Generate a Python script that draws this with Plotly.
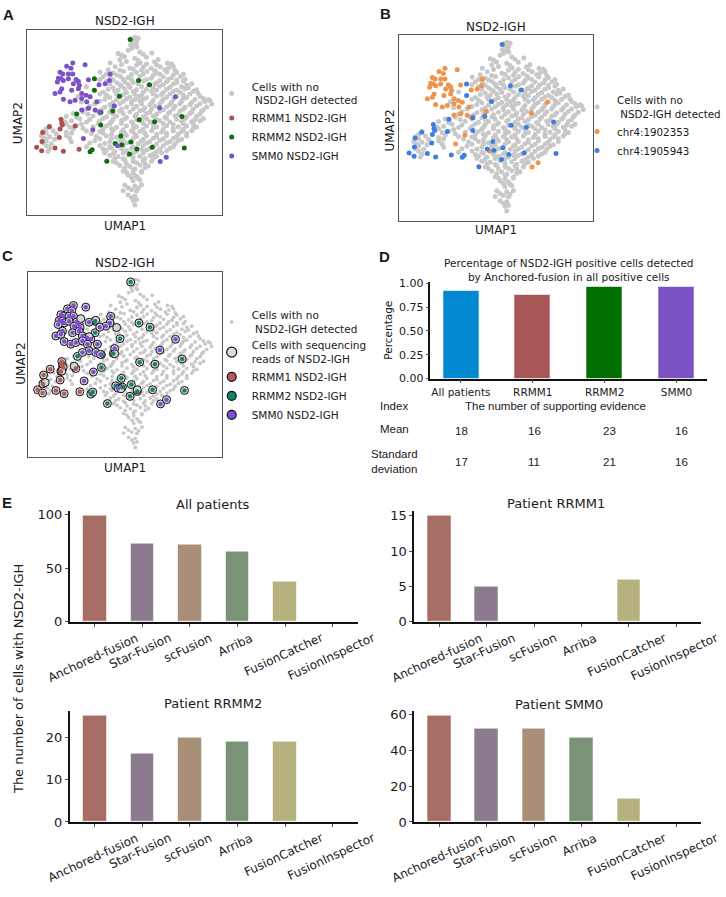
import plotly.graph_objects as go

W, H = 726, 897

# UMAP coordinates of the cells (one embedding shared by panels A, B and C)
bg_cells = [
    (39.8, 59.8), (40.6, 60.2), (41.5, 59.9), (40.2, 59.0),
    (39.9, 58.3), (41.0, 58.7), (39.2, 57.8), (40.8, 57.6),
    (39.6, 56.8), (41.1, 57.2), (38.5, 56.2),
    (35.5, 55.2), (42.0, 55.7), (45.6, 55.4), (43.0, 55.0), (36.5, 54.8),
    (37.4, 54.2), (40.5, 53.8), (44.0, 54.1),
    (36.0, 53.3), (41.5, 53.1), (47.5, 53.4),
    (33.1, 52.3), (38.0, 52.8), (42.1, 52.4), (46.4, 52.7), (50.2, 52.3),
    (36.5, 51.9), (41.0, 51.7), (44.0, 52.0), (47.0, 51.8), (51.5, 52.0),
    (34.6, 51.2), (39.0, 50.8), (43.0, 51.1), (45.4, 50.7), (48.1, 51.2), (50.6, 50.9), (52.0, 51.3),
    (32.5, 50.3), (36.0, 50.1), (40.0, 50.4), (42.5, 50.2), (46.5, 50.0), (49.5, 50.3), (52.5, 50.1),
    (30.1, 49.6), (34.0, 49.3), (37.1, 49.8), (41.0, 49.4), (44.1, 49.7), (47.0, 49.3), (50.1, 49.6),
    (53.0, 49.4),
    (32.0, 48.9), (35.0, 48.7), (39.5, 48.8), (43.0, 48.9), (46.0, 48.6), (48.0, 48.9), (52.0, 48.7),
    (55.0, 48.9),
    (31.0, 48.1), (33.2, 47.8), (36.1, 48.3), (38.5, 47.9), (42.0, 48.2), (45.4, 47.7), (49.0, 48.1),
    (51.5, 47.8), (54.1, 48.2),
    (30.0, 47.3), (34.0, 47.1), (37.0, 47.4), (39.5, 47.2), (44.0, 47.3), (48.0, 47.0), (50.5, 47.3),
    (53.0, 47.1), (55.5, 47.4),
    (23.5, 46.4), (32.0, 46.7), (35.1, 46.3), (37.5, 46.6), (40.0, 46.4), (43.1, 46.8), (47.0, 46.3),
    (50.0, 46.6), (53.1, 46.4), (55.0, 46.8),
    (33.0, 45.9), (36.0, 45.7), (38.5, 45.8), (41.5, 45.9), (44.5, 45.6), (46.5, 45.9), (49.0, 45.7),
    (52.0, 45.9), (56.0, 45.6), (57.5, 46.0),
    (26.0, 45.1), (34.0, 44.8), (36.5, 45.2), (39.0, 44.9), (42.5, 45.1), (46.0, 44.7), (48.0, 45.2),
    (51.0, 44.9), (54.5, 45.1), (56.5, 44.8),
    (32.5, 44.3), (35.5, 44.1), (37.5, 44.4), (41.0, 44.2), (44.0, 44.3), (47.0, 44.0), (50.0, 44.3),
    (53.0, 44.1), (55.5, 44.4), (59.0, 44.2),
    (31.0, 43.4), (34.5, 43.7), (38.0, 43.3), (40.0, 43.6), (43.0, 43.4), (45.5, 43.8), (49.0, 43.3),
    (52.0, 43.6), (54.0, 43.4), (58.0, 43.7),
    (30.0, 42.9), (32.0, 42.6), (35.0, 42.9), (37.0, 42.7), (40.5, 42.8), (42.5, 42.6), (46.0, 42.9),
    (48.5, 42.7), (51.0, 42.9), (55.0, 42.6), (57.0, 42.9), (59.5, 43.0),
    (23.5, 42.1), (33.0, 41.8), (36.0, 42.2), (39.0, 41.9), (41.5, 42.1), (44.0, 41.7), (47.0, 42.2),
    (50.0, 41.9), (53.0, 42.1), (56.0, 41.8), (60.0, 42.2),
    (31.5, 41.3), (35.0, 41.1), (38.0, 41.4), (40.5, 41.2), (43.0, 41.3), (46.0, 41.0), (49.0, 41.3),
    (52.0, 41.1), (55.0, 41.4), (58.5, 41.2), (61.0, 41.5), (62.5, 41.2),
    (24.5, 40.4), (30.0, 40.7), (34.0, 40.3), (37.0, 40.6), (39.5, 40.4), (42.0, 40.8), (45.5, 40.3),
    (48.5, 40.6), (51.5, 40.4), (54.5, 40.7), (57.5, 40.3), (61.5, 40.6), (63.0, 40.9),
    (28.5, 39.9), (33.0, 39.7), (36.0, 39.9), (39.5, 39.8), (42.5, 39.9), (45.0, 39.6), (48.0, 39.9),
    (51.0, 39.7), (54.0, 39.9), (57.0, 39.6), (60.0, 39.9), (63.5, 39.8),
    (27.0, 39.1), (31.5, 38.8), (34.5, 39.2), (38.0, 38.9), (41.0, 39.1), (43.5, 38.7), (46.5, 39.2),
    (50.0, 38.9), (52.5, 39.1), (55.5, 38.8), (59.0, 39.2), (62.0, 38.9),
    (26.0, 38.3), (30.5, 38.1), (33.5, 38.4), (36.5, 38.2), (40.0, 38.3), (43.0, 38.0), (45.5, 38.3),
    (49.0, 38.1), (52.0, 38.4), (55.0, 38.2), (58.0, 38.3), (61.0, 38.1),
    (25.0, 37.4), (29.0, 37.7), (33.0, 37.3), (36.0, 37.6), (39.0, 37.4), (42.0, 37.8), (45.0, 37.3),
    (48.0, 37.6), (51.0, 37.4), (54.0, 37.7), (57.5, 37.3), (60.5, 37.6),
    (22.0, 36.9), (26.5, 36.7), (30.0, 36.9), (34.0, 36.8), (37.0, 36.9), (41.0, 36.6), (44.0, 36.9),
    (47.0, 36.7), (50.5, 36.9), (53.5, 36.6), (57.0, 36.9), (60.0, 36.7),
    (20.0, 36.1), (23.0, 35.8), (28.0, 36.2), (32.0, 35.9), (35.0, 36.1), (38.0, 35.7), (40.5, 36.2),
    (43.0, 35.9), (46.0, 36.1), (49.5, 35.8), (52.5, 36.2), (56.0, 35.9), (59.0, 36.1),
    (24.0, 35.3), (27.0, 35.1), (31.0, 35.4), (34.0, 35.2), (37.5, 35.3), (41.0, 35.0), (44.0, 35.3),
    (47.0, 35.1), (50.0, 35.4), (53.0, 35.2), (55.5, 35.3), (58.5, 35.1), (61.0, 35.3),
    (19.5, 34.4), (21.5, 34.7), (26.0, 34.3), (30.0, 34.6), (33.5, 34.4), (36.5, 34.8), (39.5, 34.3),
    (42.5, 34.6), (45.0, 34.4), (48.0, 34.7), (51.0, 34.3), (54.5, 34.6), (57.5, 34.4), (60.0, 34.7),
    (20.0, 33.9), (24.5, 33.7), (29.5, 33.9), (33.0, 33.8), (36.5, 33.9), (40.0, 33.6), (43.0, 33.9),
    (46.0, 33.7), (49.0, 33.9), (52.0, 33.6), (55.0, 33.9), (58.0, 33.7),
    (15.0, 33.1), (21.0, 32.8), (23.0, 33.2), (28.0, 32.9), (32.0, 33.1), (35.0, 32.7), (38.0, 33.2),
    (41.0, 32.9), (44.0, 33.1), (47.0, 32.8), (50.0, 33.2), (53.5, 32.9), (56.0, 33.1), (59.0, 32.8),
    (14.0, 32.3), (22.0, 32.1), (25.0, 32.4), (31.0, 32.2), (33.5, 32.3), (37.0, 32.0), (40.0, 32.3),
    (43.0, 32.1), (46.0, 32.4), (49.0, 32.2), (52.0, 32.3), (55.0, 32.1), (58.0, 32.4),
    (13.0, 31.4), (16.0, 31.7), (20.0, 31.3), (26.0, 31.6), (30.0, 31.4), (34.0, 31.8), (36.5, 31.3),
    (39.5, 31.6), (42.0, 31.4), (45.5, 31.7), (48.5, 31.3), (52.0, 31.6), (54.5, 31.4), (57.5, 31.7),
    (14.0, 30.9), (17.0, 30.7), (21.5, 30.9), (27.5, 30.8), (31.0, 30.9), (33.5, 30.6), (37.5, 30.9),
    (40.5, 30.7), (43.5, 30.9), (47.0, 30.6), (50.0, 30.9), (53.5, 30.7), (56.0, 30.9),
    (12.5, 30.1), (15.0, 29.8), (20.0, 30.2), (29.0, 29.9), (32.0, 30.1), (35.0, 29.7), (38.0, 30.2),
    (41.0, 29.9), (44.0, 30.1), (47.0, 29.8), (50.0, 30.2), (53.0, 29.9), (56.0, 30.1),
    (13.5, 29.3), (16.5, 29.1), (21.0, 29.4), (30.0, 29.2), (33.5, 29.3), (37.0, 29.0), (40.0, 29.3),
    (43.0, 29.1), (46.0, 29.4), (49.0, 29.2), (52.0, 29.3), (54.5, 29.1),
    (14.0, 28.7), (21.5, 28.3), (28.5, 28.6), (33.0, 28.4), (36.0, 28.8), (39.5, 28.3),
    (42.5, 28.6), (45.0, 28.4), (48.0, 28.7), (51.0, 28.3), (53.5, 28.6),
    (13.0, 27.9), (15.5, 27.7), (27.0, 27.9), (31.5, 27.8), (35.0, 27.6), (38.0, 27.9), (41.5, 27.7),
    (44.0, 27.9), (47.0, 27.6), (50.0, 27.9), (52.5, 27.7),
    (14.0, 27.1), (26.0, 26.8), (30.0, 27.2), (33.0, 26.9), (37.0, 27.1), (40.0, 26.7), (43.0, 27.2),
    (46.0, 26.9), (49.0, 27.1), (52.0, 26.8),
    (15.0, 26.3), (31.0, 26.1), (33.5, 26.4), (36.5, 26.2), (39.5, 26.3), (42.5, 26.0), (45.0, 26.3),
    (48.0, 26.1), (51.0, 26.3),
    (14.5, 25.4), (32.0, 25.7), (34.5, 25.3), (38.0, 25.6), (41.0, 25.4), (44.0, 25.8), (47.0, 25.3),
    (50.0, 25.6),
    (31.5, 24.9), (34.0, 24.7), (37.0, 24.9), (40.0, 24.8), (43.0, 24.9), (46.0, 24.6), (48.5, 24.9),
    (33.0, 24.1), (35.5, 23.8), (38.5, 24.2), (42.0, 23.9), (45.0, 24.1), (47.0, 23.8),
    (34.5, 23.3), (37.0, 23.1), (40.0, 23.4), (43.5, 23.2), (46.0, 23.3),
    (34.0, 22.4), (37.5, 22.7), (40.0, 22.3), (43.0, 22.6), (45.5, 22.4),
    (35.0, 21.9), (38.0, 21.7), (41.0, 21.9), (43.5, 21.7),
    (36.0, 21.1), (39.0, 20.8), (42.0, 21.2), (44.5, 20.9),
    (37.5, 20.3), (40.5, 20.1), (43.5, 20.4),
    (37.0, 19.4), (40.0, 19.7), (42.5, 19.3),
    (38.0, 18.9), (40.0, 18.7), (42.5, 19.0),
    (38.5, 18.1), (41.0, 17.8),
    (39.5, 17.3), (41.5, 17.1),
    (40.0, 16.4), (42.0, 16.7),
    (37.5, 15.1), (40.5, 14.8), (42.5, 15.2),
    (38.5, 14.3), (41.5, 14.1),
    (37.0, 13.4), (39.5, 13.7), (41.0, 13.3),
    (38.5, 12.1), (40.5, 11.8),
    (39.5, 11.3),
    (40.0, 10.4), (41.0, 10.7),
    (40.5, 9.0),
]

rrmm1_cells = [
    (18.4, 35.2), (18.6, 34.0), (14.9, 32.9), (18.1, 32.2), (18.8, 33.4), (22.6, 33.1), (12.9, 31.1),
    (17.9, 29.6), (12.7, 28.4), (11.1, 26.6), (12.6, 25.6), (16.6, 26.4), (19.1, 25.4), (23.8, 26.0),
]

rrmm2_cells = [
    (39.1, 59.5), (28.4, 47.5), (41.6, 47.0), (44.9, 45.7), (28.4, 44.0), (35.9, 42.2), (23.1, 36.8),
    (30.3, 37.3), (33.9, 37.7), (30.3, 33.4), (41.8, 35.0), (46.4, 34.4), (54.6, 36.0), (36.3, 30.1),
    (34.6, 27.8), (36.6, 27.4), (39.3, 28.2), (41.1, 26.1), (38.9, 24.6), (45.7, 26.6), (55.3, 26.4),
    (27.1, 25.3), (27.7, 25.9), (32.1, 22.4),
]

smm0_cells = [
    (21.9, 52.3), (25.6, 51.8), (20.1, 51.3), (21.4, 50.7), (18.1, 49.5), (18.9, 49.0), (20.6, 49.0),
    (21.9, 49.0), (17.6, 47.7), (18.4, 47.5), (19.1, 47.0), (20.6, 47.5), (22.9, 47.3), (23.6, 46.7),
    (17.3, 46.5), (22.1, 46.0), (23.9, 45.5), (18.6, 44.5), (21.6, 44.0), (23.6, 44.5), (16.6, 43.0),
    (18.1, 43.5), (24.6, 43.0), (25.9, 42.5), (27.1, 42.0), (33.1, 49.0), (32.9, 47.0), (31.6, 46.0),
    (19.1, 41.3), (21.1, 40.5), (22.6, 41.0), (24.6, 41.5), (26.1, 40.5), (29.1, 40.5), (26.6, 38.5),
    (24.6, 38.0), (28.6, 38.0), (29.8, 45.7), (34.3, 39.2), (30.0, 37.4), (27.9, 32.0), (25.1, 29.3),
    (35.3, 27.1), (48.1, 22.3), (49.9, 23.6), (52.6, 42.0), (47.9, 38.7), (26.6, 47.2),
]

# cells with NSD2-IGH reads that carry no patient colour (ringed only in panel C)
reads_only_cells = [
    (28.6, 47.8), (34.9, 45.6), (34.3, 37.6), (22.1, 33.8), (18.4, 32.3), (13.4, 28.8), (41.1, 26.6),
    (24.1, 48.3), (26.6, 42.8), (36.2, 26.9),
]

# D: share of NSD2-IGH positive cells found by Anchored-fusion
groups = ["All patients", "RRMM1", "RRMM2", "SMM0"]
pct_anchored = [0.925, 0.882, 0.962, 0.967]
evidence_mean = [18, 16, 23, 16]
evidence_sd = [17, 11, 21, 16]

# E: number of NSD2-IGH cells per tool
tools = ["Anchored-fusion", "Star-Fusion", "scFusion", "Arriba", "FusionCatcher", "FusionInspector"]
cells_all = [99, 73, 72, 66, 38, 0]
cells_rrmm1 = [15, 5, 0, 0, 6, 0]
cells_rrmm2 = [25, 16, 20, 19, 19, 0]
cells_smm0 = [59, 52, 52, 47, 13, 0]

FONT = "DejaVu Sans"
ARIAL = "Liberation Sans, Arial"
INK = "#1a1a1a"
GRAY = "#c8c8c8"
tool_colors = ["#a66d64", "#8c7a8e", "#a98f77", "#7a9377", "#b5b27f", "#9aa0b8"]


def px(x):
    return x / W


def py(y):
    return 1 - y / H


def xs(cells):
    return [c[0] for c in cells]


def ys(cells):
    return [c[1] for c in cells]


fig = go.Figure()

# ---------- A: cells coloured by patient
for cells, name, color in [
    (bg_cells, "Cells with no<br> NSD2-IGH detected", GRAY),
    (rrmm1_cells, "RRMM1 NSD2-IGH", "#a8524f"),
    (rrmm2_cells, "RRMM2 NSD2-IGH", "#0b6e0b"),
    (smm0_cells, "SMM0 NSD2-IGH", "#7b52c8"),
]:
    fig.add_trace(go.Scatter(
        x=xs(cells), y=ys(cells), mode="markers", name=name,
        marker={"size": 5, "color": color}, xaxis="x", yaxis="y", legend="legend",
    ))

# ---------- B: cells coloured by breakpoint
fig.add_trace(go.Scatter(
    x=xs(bg_cells), y=ys(bg_cells), mode="markers", name="Cells with no<br> NSD2-IGH detected",
    marker={"size": 5, "color": GRAY}, xaxis="x2", yaxis="y2", legend="legend2",
))
fig.add_trace(go.Scatter(
    x=xs(smm0_cells), y=ys(smm0_cells), mode="markers", name="chr4:1902353",
    marker={"size": 5, "color": "#f0934c"}, xaxis="x2", yaxis="y2", legend="legend2",
))
fig.add_trace(go.Scatter(
    x=xs(rrmm1_cells + rrmm2_cells), y=ys(rrmm1_cells + rrmm2_cells), mode="markers",
    name="chr4:1905943", marker={"size": 5, "color": "#3d7fdc"},
    xaxis="x2", yaxis="y2", legend="legend2",
))

# ---------- C: cells with sequencing reads ringed
all_reads = rrmm1_cells + rrmm2_cells + smm0_cells + reads_only_cells
c_colors = {"RRMM1 NSD2-IGH": "#b25a55", "RRMM2 NSD2-IGH": "#14826a", "SMM0 NSD2-IGH": "#7b4fd0"}
fig.add_trace(go.Scatter(
    x=xs(bg_cells), y=ys(bg_cells), mode="markers", name="Cells with no<br> NSD2-IGH detected",
    marker={"size": 3.8, "color": GRAY}, xaxis="x3", yaxis="y3", legend="legend3",
))
fig.add_trace(go.Scatter(
    x=xs(all_reads), y=ys(all_reads), mode="markers", showlegend=False,
    marker={"size": 8, "color": "#d4d4d4", "line": {"color": "#111", "width": 1}},
    xaxis="x3", yaxis="y3",
))
for cells, name in [(rrmm1_cells, "RRMM1 NSD2-IGH"), (rrmm2_cells, "RRMM2 NSD2-IGH"),
                    (smm0_cells, "SMM0 NSD2-IGH")]:
    fig.add_trace(go.Scatter(
        x=xs(cells), y=ys(cells), mode="markers", showlegend=False,
        marker={"size": 4.5, "color": c_colors[name]}, xaxis="x3", yaxis="y3",
    ))
# legend entries for C
fig.add_trace(go.Scatter(
    x=[None], y=[None], mode="markers", name="Cells with sequencing<br>reads of NSD2-IGH",
    marker={"size": 10, "color": "#dcdcdc", "line": {"color": "#111", "width": 1.2}},
    xaxis="x3", yaxis="y3", legend="legend3",
))
for name, color in c_colors.items():
    fig.add_trace(go.Scatter(
        x=[None], y=[None], mode="markers", name=name,
        marker={"size": 9, "color": color, "line": {"color": "#111", "width": 1.2}},
        xaxis="x3", yaxis="y3", legend="legend3",
    ))

# ---------- D: percentage bars
fig.add_trace(go.Bar(
    x=groups, y=pct_anchored, width=0.5, showlegend=False,
    marker={"color": ["#0288d1", "#a85656", "#007000", "#7b52c4"],
            "line": {"color": "rgba(255,255,255,0.7)", "width": 0.8}},
    xaxis="x4", yaxis="y4",
))

# ---------- E: per-tool bars
e_panels = [
    (5, cells_all, "All patients"),
    (6, cells_rrmm1, "Patient RRMM1"),
    (7, cells_rrmm2, "Patient RRMM2"),
    (8, cells_smm0, "Patient SMM0"),
]
for n, vals, _ in e_panels:
    fig.add_trace(go.Bar(
        x=tools, y=vals, width=0.5, showlegend=False,
        marker={"color": tool_colors, "line": {"color": "rgba(255,255,255,0.7)", "width": 0.8}},
        xaxis=f"x{n}", yaxis=f"y{n}",
    ))

umap_x = [8.2, 66.5]
umap_y = [6.0, 62.5]


def umap_axes(xdom, ydom, anchor_x, anchor_y):
    common = {"showline": True, "mirror": True, "linecolor": "#555", "linewidth": 1,
              "showticklabels": False, "ticks": "", "showgrid": False, "zeroline": False}
    xa = dict(common, domain=xdom, range=umap_x, anchor=anchor_y)
    ya = dict(common, domain=ydom, range=umap_y, anchor=anchor_x)
    return xa, ya


xa1, ya1 = umap_axes([px(27), px(222)], [py(213), py(25)], "x", "y")
xa2, ya2 = umap_axes([px(400), px(594)], [py(219), py(30)], "x2", "y2")
xa3, ya3 = umap_axes([px(28), px(222)], [py(459), py(271)], "x3", "y3")


def bar_axes(n, xdom, ydom, ymax, dtick, lw=2, font_size=13, pad=0.525, ncat=6):
    xa = {"domain": xdom, "anchor": f"y{n}", "range": [-pad, ncat - 1 + pad],
          "showline": True, "linecolor": "#111", "linewidth": lw, "ticks": "outside",
          "ticklen": 3, "tickcolor": "#555", "showgrid": False, "zeroline": False}
    ya = {"domain": ydom, "anchor": f"x{n}", "range": [0, ymax], "dtick": dtick,
          "showline": True, "linecolor": "#111", "linewidth": lw, "ticks": "outside",
          "ticklen": 3, "tickcolor": "#555", "showgrid": False, "zeroline": False,
          "tickfont": {"size": font_size, "color": INK}}
    return xa, ya


xa4, ya4 = bar_axes(4, [px(431), px(708)], [py(379), py(281)], max(pct_anchored) * 1.05, 0.25,
                    lw=1.5, font_size=11, pad=0.425, ncat=4)
xa4["tickfont"] = {"size": 10.5, "color": INK}
ya4["tickformat"] = ".2f"
ya4["title"] = {"text": "Percentage", "font": {"size": 10.5, "color": INK}, "standoff": 4}

xa5, ya5 = bar_axes(5, [px(70), px(358)], [py(626), py(513)], max(cells_all) * 1.05, 50)
xa6, ya6 = bar_axes(6, [px(415), px(702)], [py(626), py(513)], max(cells_rrmm1) * 1.05, 5)
xa7, ya7 = bar_axes(7, [px(70), px(358)], [py(829), py(716)], max(cells_rrmm2) * 1.05, 10)
xa8, ya8 = bar_axes(8, [px(415), px(702)], [py(829), py(716)], max(cells_smm0) * 1.05, 20)
for xa in (xa5, xa6, xa7, xa8):
    xa["showticklabels"] = False

annotations = []


def text(x, y, s, size=12, family=FONT, **kw):
    annotations.append(dict(x=px(x), y=py(y), xref="paper", yref="paper", text=s, showarrow=False,
                            xanchor="center", yanchor="middle",
                            font={"size": size, "family": family, "color": INK}, **kw))


# panel letters
for letter, x, y in [("A", 9, 10), ("B", 386, 9), ("C", 8, 254), ("D", 385, 255), ("E", 7, 505)]:
    text(x, y, f"<b>{letter}</b>", size=15, family=ARIAL)

# UMAP panel titles and axis labels
for cx, top, bottom in [(125, 16, 224), (497, 22, 228), (125, 262, 470)]:
    text(cx, top, "NSD2-IGH")
    text(cx, bottom, "UMAP1")
for x, y in [(18, 120), (391, 127), (21, 364)]:
    text(x, y, "UMAP2", textangle=-90)

# D title and the evidence table
text(570, 269, "Percentage of NSD2-IGH positive cells detected<br>by Anchored-fusion in all positive cells",
     size=10.5)
text(395, 407, "Index", size=11.5, family=ARIAL)
text(556, 407, "The number of supporting evidence", size=11.5, family=ARIAL)
text(395, 430, "Mean", size=11.5, family=ARIAL)
text(395, 463, "Standard<br>deviation", size=11.5, family=ARIAL)
table_x = [462, 535, 610, 682]
for i in range(len(groups)):
    text(table_x[i], 432, str(evidence_mean[i]), size=11.5, family=ARIAL)
    text(table_x[i], 464, str(evidence_sd[i]), size=11.5, family=ARIAL)

# E titles, shared y title and rotated tool labels
for (n, vals, title), (cx, cy) in zip(e_panels, [(213, 507), (557, 506), (213, 709), (560, 710)]):
    text(cx, cy, title, size=13)
    for t in tools:
        annotations.append(dict(x=t, y=0, xref=f"x{n}", yref=f"y{n}", text=t, showarrow=False,
                                textangle=-25, xanchor="center", yanchor="top", yshift=-6,
                                xshift=-2, font={"size": 12, "family": FONT, "color": INK}))
text(18, 684, "The number of cells with NSD2-IGH", size=13, textangle=-90)

legend_style = {"font": {"size": 10.5, "family": FONT, "color": INK}, "bgcolor": "rgba(0,0,0,0)",
                "xanchor": "left", "yanchor": "middle", "itemsizing": "trace", "tracegroupgap": 0}

fig.update_layout(
    width=W, height=H, margin={"l": 0, "r": 0, "t": 0, "b": 0},
    paper_bgcolor="white", plot_bgcolor="white",
    font={"family": FONT, "color": INK},
    bargap=0,
    xaxis=xa1, yaxis=ya1, xaxis2=xa2, yaxis2=ya2, xaxis3=xa3, yaxis3=ya3,
    xaxis4=xa4, yaxis4=ya4, xaxis5=xa5, yaxis5=ya5, xaxis6=xa6, yaxis6=ya6,
    xaxis7=xa7, yaxis7=ya7, xaxis8=xa8, yaxis8=ya8,
    legend=dict(legend_style, x=px(212), y=py(119)),
    legend2=dict(legend_style, x=px(578), y=py(123),
                 font={"size": 10.3, "family": FONT, "color": INK}),
    legend3=dict(legend_style, x=px(212), y=py(366)),
    annotations=annotations,
)

# the page's default 8px body margin would push the figure off the window edge
fig.write_html("out.html", config={"displayModeBar": False},
               post_script="document.body.style.margin = '0';")
